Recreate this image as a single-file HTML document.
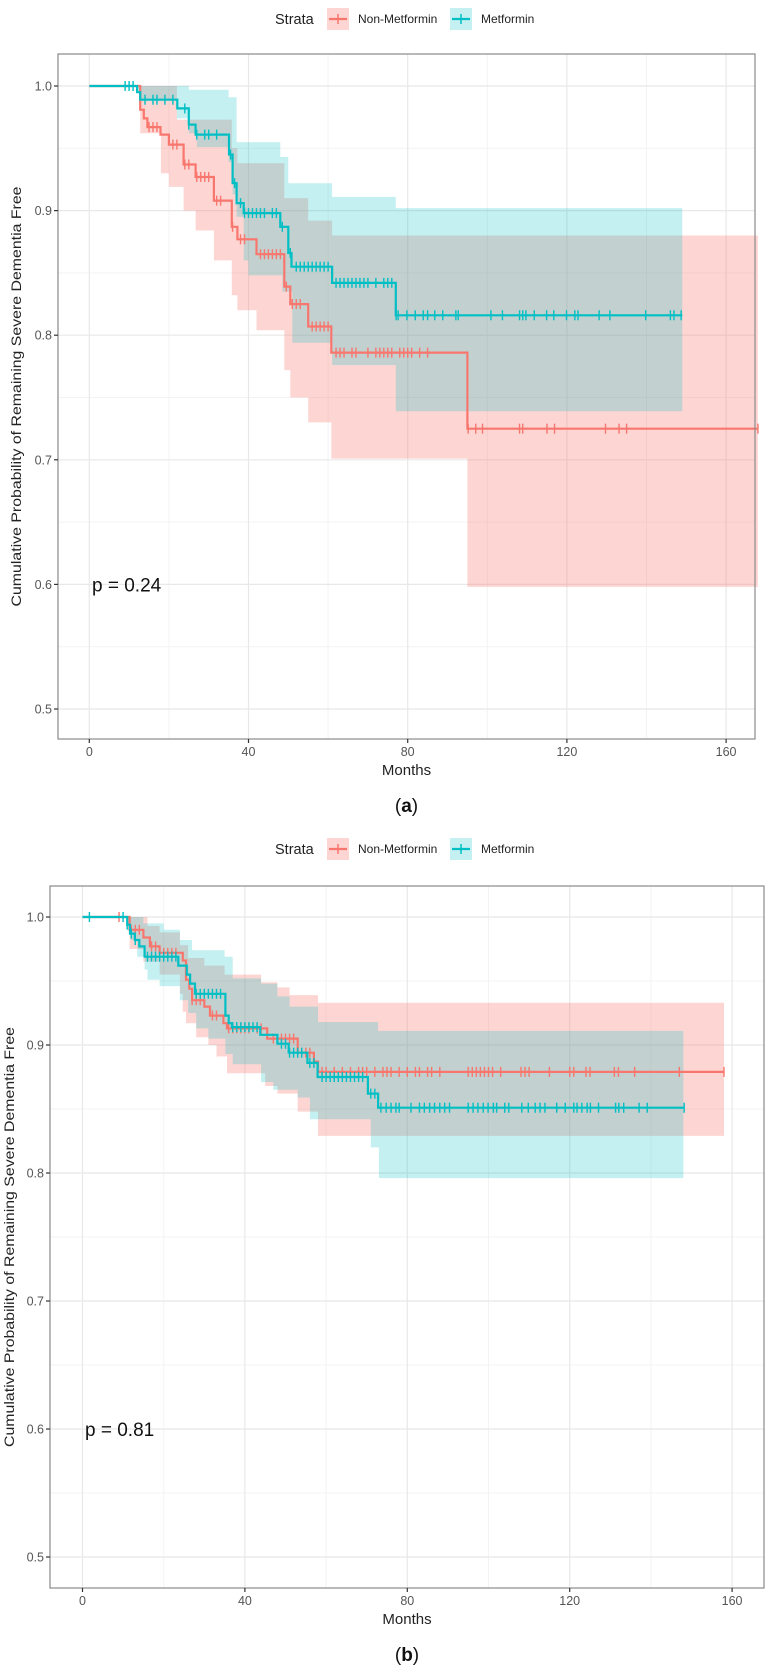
<!DOCTYPE html>
<html>
<head>
<meta charset="utf-8">
<style>
html,body{margin:0;padding:0;background:#fff;}
svg{display:block;}
text{font-family:"Liberation Sans",Arial,sans-serif;}
</style>
</head>
<body>
<svg id="fig" width="770" height="1672" viewBox="0 0 770 1672" xmlns="http://www.w3.org/2000/svg"></svg>
<script>
// ---------- Panel (a) data ----------
const xTicks = [0, 40, 80, 120, 160];
const xMinor = [20, 60, 100, 140];
const yTicks = [0.5, 0.6, 0.7, 0.8, 0.9, 1.0];
const yTickLabels = ["0.5", "0.6", "0.7", "0.8", "0.9", "1.0"];
const yMinor = [0.55, 0.65, 0.75, 0.85, 0.95];

const aMetT = [0,12,12.8,22.1,25,26.7,35.1,36,37,38.8,48,50,50.8,61,77];
const aMetS = [1,0.995,0.989,0.982,0.969,0.961,0.945,0.922,0.906,0.898,0.887,0.866,0.855,0.842,0.816];
const aMetEnd = 149;
const aMetUpT = [0,25,35,37,48,50,61,77];
const aMetUp = [1,0.997,0.991,0.955,0.943,0.922,0.911,0.902];
const aMetLoT = [0,12,13,22,25,27,35,36,37,38.8,40,48.5,51,61,77];
const aMetLo = [1,0.995,0.989,0.974,0.962,0.951,0.939,0.913,0.895,0.86,0.848,0.835,0.794,0.776,0.739];
const aMetCens = [9,10,11,14,16,17,19,21,24,25,27,29,30,32,35.5,36.5,38,39,40,41,42,43,44,46,47,48.5,50.5,52,53,54,55,56,57,58,59,60,62,63,64,65,66,67,68,69,70,72,74,75,76,77.1,77.6,79.8,81.9,83.9,85,86.8,88.8,92.1,92.7,100.9,103.8,108.1,108.9,109.7,111.8,114.9,116.7,119.9,122,122.8,128.1,130.8,139.8,146,146.9,148.7];

const aNonT = [0,12.8,13.7,14.6,17.9,20,23.7,26.7,31.3,35.8,37.2,42,49,50.5,55,60.8,95];
const aNonS = [1,0.981,0.974,0.967,0.961,0.953,0.937,0.927,0.908,0.887,0.877,0.865,0.839,0.825,0.807,0.786,0.725];
const aNonEnd = 168;
const aNonUpT = [0,22,35.8,37.2,49,55,61];
const aNonUp = [1,0.973,0.95,0.938,0.91,0.892,0.88];
const aNonLoT = [0,12.8,18,20,23.7,26.7,31.3,35.8,37.2,42,49,50.5,55,60.8,95];
const aNonLo = [1,0.962,0.93,0.919,0.9,0.884,0.86,0.832,0.82,0.804,0.772,0.75,0.73,0.701,0.598];
const aNonCens = [15,16,17,21,22,24,25,27,28,29,30,32,33,36,38,39,43,44,45,46,47,48,49.5,51,52,53,56,57,58,59,60,62,63,64,66,67,70,72,73,74,75,76,78,79,80,81,83,85,95.2,97.1,98.8,108.1,108.9,115,116.9,129.7,133.1,135,168];
const aPValue = "p = 0.24";

// ---------- Panel (b) data ----------
const bMetT = [0,11,11.7,12.9,14,15.3,23.6,25.7,26.5,27.7,35.2,36,36.8,43.8,48,50.8,55.4,57.9,70.3,72.8];
const bMetS = [1,0.994,0.987,0.982,0.977,0.969,0.962,0.955,0.948,0.94,0.923,0.917,0.914,0.908,0.901,0.894,0.886,0.875,0.862,0.851];
const bMetEnd = 148;
const bMetUpT = [0,15,20,24,27,35,37,44,48,51,58,72.8];
const bMetUp = [1,0.995,0.99,0.982,0.974,0.969,0.952,0.948,0.938,0.93,0.918,0.911];
const bMetLoT = [0,11,12,13.5,15.3,16,19,24,26,28,31,35.2,37,44,47,53,56,71,73];
const bMetLo = [1,0.99,0.982,0.969,0.959,0.951,0.946,0.935,0.925,0.913,0.905,0.893,0.885,0.871,0.865,0.859,0.842,0.82,0.796];
const bMetCens = [1.7,10,11,12,13,16,17,18,19,20,21,22,23,28,29,30,31,32,33,34,37,38,39,40,41,42,43,49,50,51,52,53,54,56,57,59,60,61,62,63,64,65,66,67,68,69,71,72,73.5,74.8,76,77.2,78,80.9,83,84.2,85.5,86.7,88,89.2,90.4,95,96.2,97.4,98.7,99.9,101.2,102,104,105,108.2,109.8,111.5,112.7,113.9,116.8,118.9,121,121.8,123,124.3,125.1,127.1,131.3,132.1,133.3,137.1,139.1,148.2];

const bNonT = [0,11.6,15,16.6,19,24.7,25.5,26.3,27,30,31.4,34.7,35.6,45.5,53,57,58];
const bNonS = [1,0.99,0.984,0.977,0.972,0.966,0.951,0.944,0.935,0.93,0.923,0.917,0.913,0.905,0.894,0.887,0.879];
const bNonEnd = 158;
const bNonUpT = [0,16,19,24,26,30,35,44,48,51,58];
const bNonUp = [1,0.993,0.988,0.978,0.968,0.962,0.955,0.949,0.945,0.939,0.933];
const bNonLoT = [0,11.6,15,19,24,24.7,25.5,28,31,33,35.6,45,48,53,58];
const bNonLo = [1,0.975,0.965,0.955,0.94,0.926,0.917,0.906,0.9,0.891,0.878,0.868,0.862,0.848,0.829];
const bNonCens = [9,12,13,14,17,18,20,21,22,23,27,28,29,32,33,36,37,38,39,40,41,43,44,47,49,50,51,52,54,55,56,57,59,60,62,64,66,68,69,70,72,74,75,76,78,80,82,83,85,86,88,95,96,97,98,99,100,101,103,108,109,110,115,120,121,124,125,131,132,136,147,158];
const bPValue = "p = 0.81";

const RED = "#F8766D", TEAL = "#00BFC4";
const NS = "http://www.w3.org/2000/svg";
const svg = document.getElementById("fig");

function mk(tag, attrs, parent) {
  const e = document.createElementNS(NS, tag);
  for (const k in attrs) e.setAttribute(k, attrs[k]);
  (parent || svg).appendChild(e);
  return e;
}
function stepPts(T, V, end) {
  const p = [[T[0], V[0]]];
  for (let i = 1; i < T.length; i++) { p.push([T[i], V[i - 1]]); p.push([T[i], V[i]]); }
  p.push([end, V[V.length - 1]]);
  return p;
}
function valAt(T, V, t) {
  let v = V[0];
  for (let i = 0; i < T.length; i++) if (T[i] <= t) v = V[i];
  return v;
}

function panel(cfg) {
  const g = mk("g", {});
  
  
  const X = m => cfg.x0 + m * cfg.xs;
  const Y = v => cfg.y1 + (1 - v) * cfg.ys;
  const L = cfg.left, R = cfg.right, T = cfg.top, B = cfg.bottom;

  // legend
  const lg = mk("g", {}, g);
  
  
  const ly = cfg.legendY;
  const lt = mk("text", {x: 275, y: ly + 5, "font-size": 14.5, fill: "#222"}, lg);
  lt.textContent = "Strata";
  
  
  const entries = [[327, RED, "rgba(248,118,109,0.3)", "Non-Metformin", 358], [450, TEAL, "rgba(0,191,196,0.23)", "Metformin", 481]];
  entries.forEach(en => {
    const eg = mk("g", {}, lg);
    
    
    mk("rect", {x: en[0], y: ly - 11, width: 22, height: 22, fill: en[2]}, eg);
    mk("line", {x1: en[0] + 2, x2: en[0] + 20, y1: ly, y2: ly, stroke: en[1], "stroke-width": 2.2}, eg);
    mk("line", {x1: en[0] + 11, x2: en[0] + 11, y1: ly - 5, y2: ly + 5, stroke: en[1], "stroke-width": 1.5}, eg);
    const t = mk("text", {x: en[4], y: ly + 4, "font-size": 12, fill: "#222"}, eg);
    t.textContent = en[3];
  });

  // grid
  const grid = mk("g", {}, g);
  
  
  yMinor.forEach(v => mk("line", {x1: L, x2: R, y1: Y(v), y2: Y(v), stroke: "#f3f3f3", "stroke-width": 1}, grid));
  xMinor.forEach(m => mk("line", {x1: X(m), x2: X(m), y1: T, y2: B, stroke: "#f3f3f3", "stroke-width": 1}, grid));
  yTicks.forEach(v => mk("line", {x1: L, x2: R, y1: Y(v), y2: Y(v), stroke: "#e8e8e8", "stroke-width": 1.2}, grid));
  xTicks.forEach(m => mk("line", {x1: X(m), x2: X(m), y1: T, y2: B, stroke: "#e8e8e8", "stroke-width": 1.2}, grid));

  // bands
  const band = (UT, U, LT, Lo, end, fill, nm) => {
    const up = stepPts(UT, U, end), lo = stepPts(LT, Lo, end).reverse();
    const pts = up.concat(lo).map(p => X(p[0]).toFixed(1) + "," + Y(p[1]).toFixed(1)).join(" ");
    const b = mk("polygon", {points: pts, fill: fill}, g);
    
    
  };
  band(cfg.nonUpT, cfg.nonUp, cfg.nonLoT, cfg.nonLo, cfg.nonEnd, "rgba(248,118,109,0.3)", "ci-band-non-metformin");
  band(cfg.metUpT, cfg.metUp, cfg.metLoT, cfg.metLo, cfg.metEnd, "rgba(0,191,196,0.23)", "ci-band-metformin");

  // curves
  const curve = (Tt, S, end, col, cens, nm) => {
    const cg = mk("g", {}, g);
    
    
    const pts = stepPts(Tt, S, end).map(p => X(p[0]).toFixed(1) + "," + Y(p[1]).toFixed(1)).join(" ");
    mk("polyline", {points: pts, fill: "none", stroke: col, "stroke-width": 2.2}, cg);
    cens.forEach(t => {
      const c = mk("line", {x1: X(t), x2: X(t), y1: Y(valAt(Tt, S, t)) - 5, y2: Y(valAt(Tt, S, t)) + 5, stroke: col, "stroke-width": 1.4}, cg);
      
      
    });
  };
  curve(cfg.nonT, cfg.nonS, cfg.nonEnd, RED, cfg.nonCens, "curve-non-metformin");
  curve(cfg.metT, cfg.metS, cfg.metEnd, TEAL, cfg.metCens, "curve-metformin");

  // border
  const bd = mk("rect", {x: L, y: T, width: R - L, height: B - T, fill: "none", stroke: "#8a8a8a", "stroke-width": 1.2}, g);
  
  

  // axes ticks & labels
  const ax = mk("g", {}, g);
  
  
  yTicks.forEach((v, i) => {
    mk("line", {x1: L - 4, x2: L, y1: Y(v), y2: Y(v), stroke: "#333", "stroke-width": 1.2}, ax);
    const t = mk("text", {x: L - 6, y: Y(v) + 4.5, "font-size": 12.5, fill: "#555", "text-anchor": "end"}, ax);
    t.textContent = yTickLabels[i];
  });
  const xa = mk("g", {}, g);
  
  
  xTicks.forEach(m => {
    mk("line", {x1: X(m), x2: X(m), y1: B, y2: B + 4, stroke: "#333", "stroke-width": 1.2}, xa);
    const t = mk("text", {x: X(m), y: B + 17, "font-size": 12.5, fill: "#555", "text-anchor": "middle"}, xa);
    t.textContent = String(m);
  });
  const xt = mk("text", {x: (L + R) / 2, y: B + 36, "font-size": 15, fill: "#222", "text-anchor": "middle"}, g);
  xt.textContent = "Months";
  
  
  const cy = (T + B) / 2;
  const yt = mk("text", {x: cfg.titleX, y: cy, "font-size": 14, fill: "#222", "text-anchor": "middle", textLength: 420, lengthAdjust: "spacingAndGlyphs", transform: "rotate(-90 " + cfg.titleX + " " + cy + ")"}, g);
  yt.textContent = "Cumulative Probability of Remaining Severe Dementia Free";
  
  
  const pv = mk("text", {x: cfg.pX, y: Y(0.6) + 7, "font-size": 19, fill: "#111"}, g);
  pv.textContent = cfg.p;
  
  
  const cap = mk("text", {x: (L + R) / 2, y: cfg.capY, "font-size": 19, fill: "#111", "text-anchor": "middle", "font-family": "Liberation Serif, serif"}, g);
  
  
  const c1 = mk("tspan", {}, cap); c1.textContent = "(";
  const c2 = mk("tspan", {"font-weight": "bold"}, cap); c2.textContent = cfg.letter;
  const c3 = mk("tspan", {}, cap); c3.textContent = ")";
}

panel({name: "panel-a", x0: 89.3, xs: 3.98, y1: 86, ys: 1246, left: 58, right: 755, top: 54, bottom: 739,
  legendY: 19, titleX: 21, pX: 92, p: aPValue, capY: 812, letter: "a",
  metT: aMetT, metS: aMetS, metEnd: aMetEnd, metUpT: aMetUpT, metUp: aMetUp, metLoT: aMetLoT, metLo: aMetLo, metCens: aMetCens,
  nonT: aNonT, nonS: aNonS, nonEnd: aNonEnd, nonUpT: aNonUpT, nonUp: aNonUp, nonLoT: aNonLoT, nonLo: aNonLo, nonCens: aNonCens});

panel({name: "panel-b", x0: 82.5, xs: 4.06, y1: 917, ys: 1280, left: 50, right: 764, top: 886, bottom: 1588,
  legendY: 849, titleX: 14, pX: 85, p: bPValue, capY: 1661, letter: "b",
  metT: bMetT, metS: bMetS, metEnd: bMetEnd, metUpT: bMetUpT, metUp: bMetUp, metLoT: bMetLoT, metLo: bMetLo, metCens: bMetCens,
  nonT: bNonT, nonS: bNonS, nonEnd: bNonEnd, nonUpT: bNonUpT, nonUp: bNonUp, nonLoT: bNonLoT, nonLo: bNonLo, nonCens: bNonCens});
</script>
</body>
</html>
